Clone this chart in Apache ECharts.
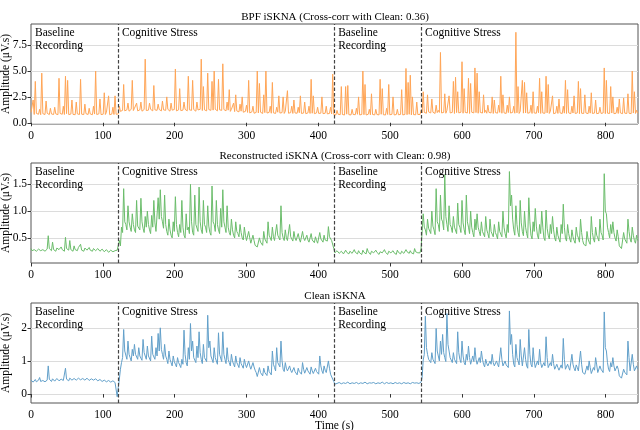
<!DOCTYPE html>
<html>
<head>
<meta charset="utf-8">
<title>iSKNA</title>
<script src="https://cdn.jsdelivr.net/npm/echarts@6/dist/echarts.min.js"></script>
<style>
  html, body { margin: 0; padding: 0; background: #fff; }
  #chart { width: 640px; height: 430px; }
</style>
</head>
<body>
<div id="chart"></div>
<script>
  // one sample every 3 s from 0 s, plus the trough read halfway between samples
  var sampleStep = 3;
  var eventTimes = [121, 422, 543];
  var phaseNames = ['Baseline\nRecording', 'Cognitive Stress', 'Baseline\nRecording', 'Cognitive Stress'];
  var phaseStarts = [0, 121, 422, 543];

  var titles = [
    'BPF iSKNA (Cross-corr with Clean: 0.36)',
    'Reconstructed iSKNA (Cross-corr with Clean: 0.98)',
    'Clean iSKNA'
  ];

  var bpfValues = [
    1.0,2.2,4.0,0.9,1.3,4.8,1.0,2.1,0.9,1.4,
    0.85,1.5,1.0,4.3,0.9,1.6,4.5,4.1,0.9,2.2,
    0.9,2.0,1.0,4.2,0.85,1.8,0.9,1.4,0.85,1.6,
    5.0,0.9,2.3,0.85,2.9,1.0,2.6,0.9,1.5,2.6,
    0.9,1.6,1.2,3.7,1.3,1.9,1.2,4.1,1.4,1.9,
    1.2,2.0,1.3,6.15,1.3,1.9,1.2,3.6,1.4,1.8,
    1.3,2.1,1.2,2.5,1.3,1.9,1.2,5.2,1.3,3.3,
    1.2,2.0,1.3,4.5,1.2,4.1,1.4,2.0,1.3,6.15,
    3.5,1.4,4.8,1.3,4.0,5.0,1.4,4.2,1.3,5.7,
    1.4,2.0,3.2,1.3,1.9,2.7,1.2,1.8,2.5,1.2,
    1.7,4.1,1.1,1.6,1.0,5.0,3.8,1.1,2.7,5.0,
    1.0,1.6,3.9,1.0,1.5,2.6,1.0,2.5,1.1,3.1,
    1.0,1.6,2.2,1.0,1.5,2.6,1.0,2.0,1.0,1.6,
    4.2,2.6,1.0,1.5,0.9,2.5,1.0,1.6,0.9,1.5,
    4.7,0.8,1.2,0.8,3.5,0.9,3.5,3.6,0.8,1.3,
    0.8,1.4,2.5,0.8,5.0,3.7,0.9,1.3,2.8,0.8,
    1.3,0.8,4.2,3.3,0.9,1.4,3.7,0.9,2.5,0.8,
    1.3,0.8,3.2,0.9,5.25,3.9,4.6,2.5,0.8,2.0,
    0.8,1.2,3.0,1.1,2.7,1.2,2.3,1.1,1.7,1.2,
    6.8,1.1,2.8,1.2,2.6,1.1,4.0,4.4,3.0,1.1,
    5.9,3.3,1.1,4.3,3.8,1.2,5.3,4.8,3.0,1.1,
    2.7,1.2,1.7,1.1,2.5,2.2,1.1,1.7,4.5,2.7,
    1.1,1.7,2.5,1.1,1.6,8.75,3.5,1.1,4.1,3.9,
    2.9,1.1,1.7,3.0,1.1,1.6,4.3,3.0,1.1,4.5,
    3.7,1.1,2.6,1.0,1.6,2.3,1.0,1.6,4.1,3.2,
    1.0,1.6,2.6,1.0,4.0,3.3,1.0,2.7,1.0,1.6,
    2.9,1.0,2.2,1.0,1.5,1.0,5.3,4.1,1.0,3.5,
    2.5,1.0,1.5,2.3,1.0,2.4,1.0,2.8,1.1,5.0,
    3.0,1.2
  ];
  var bpfFloor = [
    0.85,0.80,0.90,0.82,0.78,0.88,0.80,0.92,0.79,0.85,
    0.80,0.86,0.78,0.90,0.82,0.80,0.88,0.79,0.84,0.81,
    0.78,0.86,0.80,0.83,0.79,0.88,0.80,0.85,0.78,0.84,
    0.80,0.86,0.79,0.83,0.80,0.87,0.78,0.84,0.80,0.82,
    0.85,1.10,1.20,1.15,1.25,1.12,1.30,1.18,1.22,1.15,
    1.25,1.12,1.28,1.18,1.22,1.30,1.15,1.25,1.20,1.28,
    1.15,1.25,1.20,1.30,1.12,1.22,1.28,1.15,1.25,1.18,
    1.22,1.30,1.15,1.25,1.20,1.28,1.12,1.24,1.30,1.18,
    1.25,1.15,1.28,1.20,1.22,1.30,1.15,1.25,1.20,1.28,
    1.15,1.22,1.10,1.20,1.08,1.15,1.05,1.12,1.02,1.10,
    1.00,0.95,1.05,0.92,1.00,0.95,1.02,0.90,0.98,0.94,
    1.00,0.92,0.96,0.90,1.02,0.94,0.98,0.90,0.95,0.92,
    0.98,0.90,0.95,0.92,0.97,0.90,0.94,0.88,0.95,0.90,
    0.92,0.88,0.95,0.90,0.93,0.88,0.92,0.86,0.90,0.85,
    0.80,0.76,0.82,0.78,0.80,0.75,0.83,0.78,0.76,0.80,
    0.78,0.82,0.76,0.80,0.78,0.75,0.82,0.77,0.80,0.76,
    0.80,0.76,0.82,0.78,0.75,0.80,0.77,0.82,0.76,0.79,
    0.77,0.81,0.76,0.80,0.78,0.82,0.76,0.79,0.77,0.80,
    0.80,0.95,1.00,0.92,1.05,0.95,1.02,0.90,0.98,1.00,
    0.95,1.00,0.92,1.05,0.95,1.00,0.90,0.98,0.95,1.02,
    0.92,1.00,0.95,0.90,1.02,0.95,0.98,0.92,1.00,0.94,
    0.98,0.92,1.00,0.95,0.90,0.98,0.93,1.00,0.92,0.96,
    0.90,0.98,0.94,1.00,0.92,0.96,0.90,0.98,0.93,0.95,
    0.92,0.98,0.90,0.95,0.92,0.97,0.90,0.94,0.92,0.96,
    0.90,0.95,0.88,0.94,0.90,0.96,0.89,0.93,0.90,0.95,
    0.88,0.94,0.90,0.95,0.88,0.92,0.90,0.95,0.88,0.93,
    0.90,0.94,0.88,0.92,0.90,0.95,0.88,0.93,0.90,0.94,
    0.88,0.92,0.90,0.95,0.88,0.93,0.90,0.92,0.88,0.94,
    0.90,0.92
  ];

  var reconValues = [
    0.30,0.26,0.31,0.27,0.32,0.26,0.30,0.27,0.54,0.28,
    0.42,0.27,0.31,0.28,0.33,0.27,0.51,0.30,0.45,0.28,
    0.35,0.27,0.32,0.38,0.28,0.31,0.27,0.32,0.26,0.30,
    0.26,0.30,0.25,0.29,0.24,0.28,0.23,0.27,0.24,0.26,
    0.27,0.45,0.70,1.42,0.75,1.10,0.70,0.95,0.65,1.20,
    0.70,1.24,0.68,0.90,1.00,0.65,0.92,1.20,0.62,1.25,
    1.40,0.80,1.30,0.62,0.85,0.55,0.80,1.27,0.60,0.75,
    1.20,0.55,0.95,0.70,1.50,0.60,1.30,0.75,1.45,0.65,
    1.20,0.70,1.10,0.60,1.47,0.75,1.20,0.65,1.05,1.40,
    0.70,1.10,0.60,0.85,0.55,0.80,0.58,0.75,0.50,0.70,
    0.45,0.62,0.40,0.55,0.36,0.33,0.50,0.40,0.62,0.45,
    0.80,0.50,0.70,0.45,0.75,0.55,1.10,0.50,0.65,0.45,
    0.75,0.48,0.62,0.45,0.58,0.42,0.62,0.45,0.55,0.42,
    0.58,0.44,0.52,0.40,0.60,0.45,0.55,0.48,0.71,0.50,
    0.45,0.22,0.26,0.21,0.25,0.20,0.27,0.22,0.25,0.21,
    0.28,0.22,0.26,0.20,0.27,0.22,0.30,0.21,0.25,0.22,
    0.27,0.21,0.24,0.22,0.28,0.21,0.25,0.22,0.26,0.21,
    0.27,0.22,0.25,0.21,0.28,0.23,0.26,0.22,0.30,0.24,
    0.25,0.30,0.95,0.65,0.85,0.70,1.00,0.65,1.42,0.75,
    1.30,0.80,1.68,0.75,1.10,0.70,0.90,0.68,1.15,0.70,
    1.20,0.65,1.30,0.70,1.00,0.60,0.85,0.95,0.62,0.80,
    0.60,0.90,0.58,0.85,0.60,0.75,0.55,0.80,0.60,1.00,
    0.58,0.75,1.74,1.30,0.65,1.10,0.60,1.20,0.62,1.00,
    0.58,1.25,0.55,0.80,1.05,0.55,0.75,1.00,0.50,1.02,
    0.55,0.75,0.90,0.50,0.70,0.48,0.75,1.13,0.50,0.75,
    0.48,0.65,0.45,0.70,0.50,0.85,0.45,0.38,0.62,0.42,
    0.90,0.48,0.70,0.50,0.85,0.55,1.70,0.95,0.60,0.75,
    0.80,0.50,0.65,0.35,0.30,0.60,0.45,0.85,0.48,0.70,
    0.45,0.55
  ];
  var reconFloor = [
    0.26,0.28,0.25,0.29,0.26,0.28,0.25,0.29,0.30,0.26,
    0.28,0.25,0.29,0.26,0.28,0.25,0.30,0.27,0.28,0.25,
    0.28,0.26,0.29,0.27,0.25,0.28,0.26,0.27,0.25,0.27,
    0.25,0.27,0.24,0.26,0.23,0.25,0.22,0.24,0.22,0.23,
    0.24,0.35,0.60,0.80,0.65,0.80,0.62,0.75,0.60,0.72,
    0.65,0.80,0.60,0.70,0.75,0.58,0.70,0.78,0.60,0.85,
    0.90,0.68,0.75,0.55,0.65,0.50,0.62,0.75,0.52,0.60,
    0.70,0.50,0.65,0.58,0.80,0.55,0.75,0.62,0.80,0.58,
    0.75,0.60,0.72,0.55,0.80,0.62,0.75,0.58,0.70,0.80,
    0.60,0.70,0.55,0.65,0.50,0.62,0.52,0.60,0.46,0.55,
    0.42,0.50,0.38,0.45,0.34,0.32,0.42,0.36,0.48,0.40,
    0.55,0.45,0.52,0.42,0.55,0.46,0.60,0.45,0.50,0.42,
    0.52,0.44,0.50,0.42,0.48,0.40,0.50,0.42,0.46,0.40,
    0.46,0.41,0.45,0.38,0.48,0.42,0.46,0.44,0.52,0.45,
    0.30,0.20,0.23,0.19,0.22,0.19,0.23,0.20,0.22,0.19,
    0.23,0.20,0.22,0.19,0.23,0.20,0.24,0.19,0.22,0.20,
    0.23,0.19,0.22,0.20,0.23,0.19,0.22,0.20,0.22,0.19,
    0.23,0.20,0.22,0.19,0.24,0.21,0.22,0.20,0.24,0.22,
    0.22,0.28,0.70,0.55,0.68,0.58,0.72,0.56,0.80,0.62,
    0.85,0.65,0.90,0.62,0.75,0.60,0.70,0.58,0.75,0.60,
    0.78,0.56,0.80,0.58,0.70,0.52,0.65,0.70,0.54,0.62,
    0.52,0.65,0.50,0.62,0.52,0.60,0.48,0.62,0.52,0.70,
    0.50,0.60,1.10,0.85,0.55,0.75,0.52,0.78,0.54,0.70,
    0.50,0.80,0.48,0.62,0.72,0.48,0.58,0.70,0.45,0.68,
    0.48,0.58,0.65,0.44,0.55,0.42,0.58,0.70,0.44,0.58,
    0.42,0.52,0.40,0.55,0.42,0.60,0.38,0.35,0.48,0.38,
    0.60,0.42,0.55,0.44,0.60,0.46,1.00,0.70,0.50,0.58,
    0.60,0.44,0.52,0.32,0.28,0.48,0.40,0.62,0.42,0.55,
    0.40,0.45
  ];

  var cleanValues = [
    0.42,0.36,0.44,0.38,0.50,0.37,0.45,0.38,0.85,0.40,
    0.46,0.39,0.47,0.40,0.45,0.41,0.78,0.44,0.48,0.42,
    0.47,0.42,0.48,0.43,0.47,0.42,0.48,0.41,0.46,0.42,
    0.46,0.40,0.44,0.38,0.42,0.37,0.41,0.36,0.40,0.35,
    -0.08,0.45,0.95,1.95,1.25,1.60,1.10,1.35,1.50,1.15,
    1.40,1.10,1.65,1.20,1.45,1.10,1.75,1.25,1.40,1.83,
    2.00,1.20,1.50,1.05,1.30,0.95,1.15,0.90,1.10,0.88,
    1.05,1.93,0.95,1.40,2.13,1.60,1.10,1.45,1.88,1.05,
    1.50,1.15,2.38,1.60,1.10,1.40,1.00,1.85,1.15,1.88,
    1.05,1.40,0.95,1.20,0.90,1.15,0.88,1.10,0.85,1.05,
    0.80,1.00,0.75,0.95,0.72,0.53,0.80,0.60,0.78,0.62,
    0.85,0.65,1.30,0.80,1.40,1.00,1.60,0.75,0.95,0.70,
    0.85,0.65,0.80,0.62,0.78,0.65,0.95,0.63,0.80,0.66,
    0.82,0.62,0.78,0.65,1.15,0.70,0.85,0.65,1.00,0.60,
    0.45,0.30,0.32,0.35,0.31,0.34,0.32,0.36,0.31,0.34,
    0.32,0.35,0.31,0.34,0.32,0.36,0.31,0.34,0.33,0.35,
    0.31,0.34,0.32,0.36,0.31,0.35,0.32,0.34,0.31,0.35,
    0.32,0.34,0.31,0.35,0.32,0.34,0.31,0.35,0.33,0.34,
    0.32,0.36,1.03,2.35,1.20,1.05,1.25,1.00,1.98,1.15,
    1.60,1.80,1.10,2.43,1.50,1.05,1.25,1.00,1.88,1.05,
    1.60,0.95,1.20,1.45,0.90,1.15,1.40,0.90,1.10,1.30,
    0.90,1.05,0.85,1.00,1.20,0.85,1.00,0.82,1.40,0.85,
    1.00,0.85,2.51,1.80,0.90,1.50,1.00,1.65,0.85,1.40,
    0.85,1.95,0.90,1.40,0.80,1.00,1.35,0.80,0.95,1.73,
    0.80,0.95,1.20,0.75,0.90,0.72,0.88,1.68,0.75,0.90,
    0.72,1.20,0.78,0.88,0.70,1.30,0.65,0.60,0.85,1.00,
    0.62,0.80,1.10,0.65,0.85,0.70,2.48,1.30,0.75,0.95,
    1.10,0.70,0.85,0.55,0.48,0.75,0.62,1.60,0.70,1.20,
    0.70,0.85
  ];
  var cleanFloor = [
    0.38,0.40,0.37,0.42,0.38,0.41,0.37,0.42,0.45,0.38,
    0.41,0.38,0.42,0.39,0.42,0.38,0.45,0.40,0.43,0.39,
    0.42,0.40,0.43,0.40,0.44,0.40,0.43,0.39,0.42,0.40,
    0.41,0.38,0.40,0.36,0.39,0.35,0.38,0.34,0.37,0.34,
    0.20,0.75,1.10,1.30,1.05,1.20,1.00,1.15,1.20,1.05,
    1.15,1.02,1.25,1.05,1.15,1.00,1.20,1.05,1.15,1.30,
    1.35,1.05,1.15,0.92,1.05,0.85,0.98,0.82,0.95,0.80,
    0.90,1.20,0.85,1.05,1.30,1.10,0.95,1.10,1.25,0.92,
    1.10,0.98,1.40,1.15,0.95,1.10,0.90,1.20,0.98,1.20,
    0.92,1.05,0.85,1.00,0.82,0.95,0.80,0.92,0.78,0.90,
    0.74,0.85,0.70,0.82,0.65,0.50,0.65,0.55,0.65,0.56,
    0.68,0.58,0.90,0.70,0.95,0.82,1.00,0.68,0.78,0.64,
    0.72,0.60,0.68,0.58,0.68,0.60,0.75,0.58,0.70,0.60,
    0.70,0.58,0.68,0.60,0.85,0.62,0.72,0.60,0.78,0.56,
    0.38,0.31,0.33,0.31,0.33,0.31,0.34,0.31,0.33,0.31,
    0.34,0.32,0.33,0.31,0.34,0.32,0.33,0.31,0.34,0.32,
    0.33,0.31,0.34,0.32,0.33,0.31,0.34,0.32,0.33,0.31,
    0.34,0.32,0.33,0.31,0.34,0.32,0.33,0.31,0.34,0.32,
    0.32,0.50,1.20,1.40,1.05,0.95,1.05,0.92,1.30,1.00,
    1.20,1.25,0.98,1.50,1.10,0.95,1.05,0.92,1.25,0.95,
    1.15,0.88,1.02,1.10,0.85,0.98,1.05,0.85,0.95,1.05,
    0.82,0.92,0.80,0.90,0.95,0.80,0.90,0.78,1.05,0.80,
    0.88,0.80,1.50,1.20,0.82,1.10,0.88,1.15,0.80,1.05,
    0.78,1.20,0.82,1.00,0.75,0.88,0.95,0.75,0.85,1.10,
    0.74,0.85,0.92,0.70,0.80,0.68,0.78,1.05,0.70,0.80,
    0.68,0.90,0.70,0.80,0.65,0.90,0.60,0.56,0.72,0.80,
    0.58,0.72,0.88,0.60,0.75,0.65,1.40,0.95,0.68,0.82,
    0.85,0.64,0.75,0.50,0.45,0.66,0.58,1.10,0.65,0.90,
    0.65,0.75
  ];

  var yTicks = [[0, 2.5, 5, 7.5], [0.5, 1, 1.5], [0, 1, 2]];
  var yRanges = [[-0.12, 9.55], [0.03, 1.9], [-0.27, 2.75]];
  var yDigits = [1, 1, 0];
  var xMax = 845;
  var colors = ['#ffa556', '#6bbd6b', '#62a0ca'];

  var font = 'Liberation Serif';
  var gridTops = [24, 163, 303];
  var gridHeight = 100;

  // samples at t, troughs at t + half a step
  function toPairs(values, floor) {
    var out = [];
    for (var i = 0; i < values.length; i++) {
      out.push([i * sampleStep, values[i]]);
      out.push([i * sampleStep + sampleStep / 2, floor[i]]);
    }
    return out;
  }

  var allValues = [bpfValues, reconValues, cleanValues];
  var allFloors = [bpfFloor, reconFloor, cleanFloor];
  var grids = [], xAxes = [], yAxes = [], series = [], titleList = [];

  for (var k = 0; k < 3; k++) {
    grids.push({left: 31, right: 2, top: gridTops[k], height: gridHeight,
      outerBoundsMode: 'none', containLabel: false,
      show: true, borderColor: '#555', borderWidth: 1, backgroundColor: 'transparent'});
    titleList.push({text: titles[k], left: 335, top: gridTops[k] - 12, textAlign: 'center',
      textStyle: {fontFamily: font, fontSize: 11, fontWeight: 'normal', color: '#000'}, padding: 0});
    xAxes.push({
      type: 'value', gridIndex: k, min: 0, max: xMax, interval: 100,
      axisLine: {show: false},
      axisTick: {show: true, length: 3.5, lineStyle: {color: '#333'}},
      axisLabel: {fontFamily: font, fontSize: 11.5, color: '#000', margin: 6, showMaxLabel: false},
      splitLine: {show: false},
      name: k === 2 ? 'Time (s)' : '', nameLocation: 'middle', nameGap: 17, nameMoveOverlap: false,
      nameTextStyle: {fontFamily: font, fontSize: 11.5, color: '#000'}
    });
    (function (d) {
      yAxes.push({
        type: 'value', gridIndex: k, min: yRanges[k][0], max: yRanges[k][1],
        axisLine: {show: false},
        axisTick: {show: true, length: 3.5, customValues: yTicks[k], lineStyle: {color: '#333'}},
        axisLabel: {fontFamily: font, fontSize: 11.5, color: '#000', margin: 4,
          customValues: yTicks[k],
          formatter: function (v) { return Number(v).toFixed(d); }},
        splitLine: {show: true, lineStyle: {color: '#dcdcdc', width: 1}},
        name: 'Amplitude (μV.s)', nameLocation: 'middle', nameRotate: 90, nameGap: 19,
        nameMoveOverlap: false,
        nameTextStyle: {fontFamily: font, fontSize: 11.5, color: '#000'}
      });
    })(yDigits[k]);
    series.push({
      type: 'line', xAxisIndex: k, yAxisIndex: k,
      data: toPairs(allValues[k], allFloors[k]),
      showSymbol: false, symbol: 'none', sampling: false,
      lineStyle: {color: colors[k], width: 1},
      markLine: {
        silent: true, symbol: 'none', animation: false,
        label: {show: false},
        lineStyle: {type: [3.5, 2], color: '#444', width: 1.2},
        data: eventTimes.map(function (t) { return {xAxis: t}; })
      }
    });
  }

  var chart = echarts.init(document.getElementById('chart'), null, {renderer: 'canvas'});
  chart.setOption({
    animation: false,
    backgroundColor: '#fff',
    title: titleList,
    grid: grids,
    xAxis: xAxes,
    yAxis: yAxes,
    series: series
  });

  // phase labels at the top left of each phase
  var texts = [];
  for (var g = 0; g < 3; g++) {
    for (var p = 0; p < phaseStarts.length; p++) {
      var px = chart.convertToPixel({xAxisIndex: g}, phaseStarts[p]);
      var py = chart.convertToPixel({yAxisIndex: g}, yRanges[g][1]);
      texts.push({
        type: 'text', left: px + 4, top: py + 3,
        style: {text: phaseNames[p], font: '11.5px "' + font + '"', fill: '#000', lineHeight: 12.5}
      });
    }
  }
  chart.setOption({graphic: texts});
</script>
</body>
</html>
